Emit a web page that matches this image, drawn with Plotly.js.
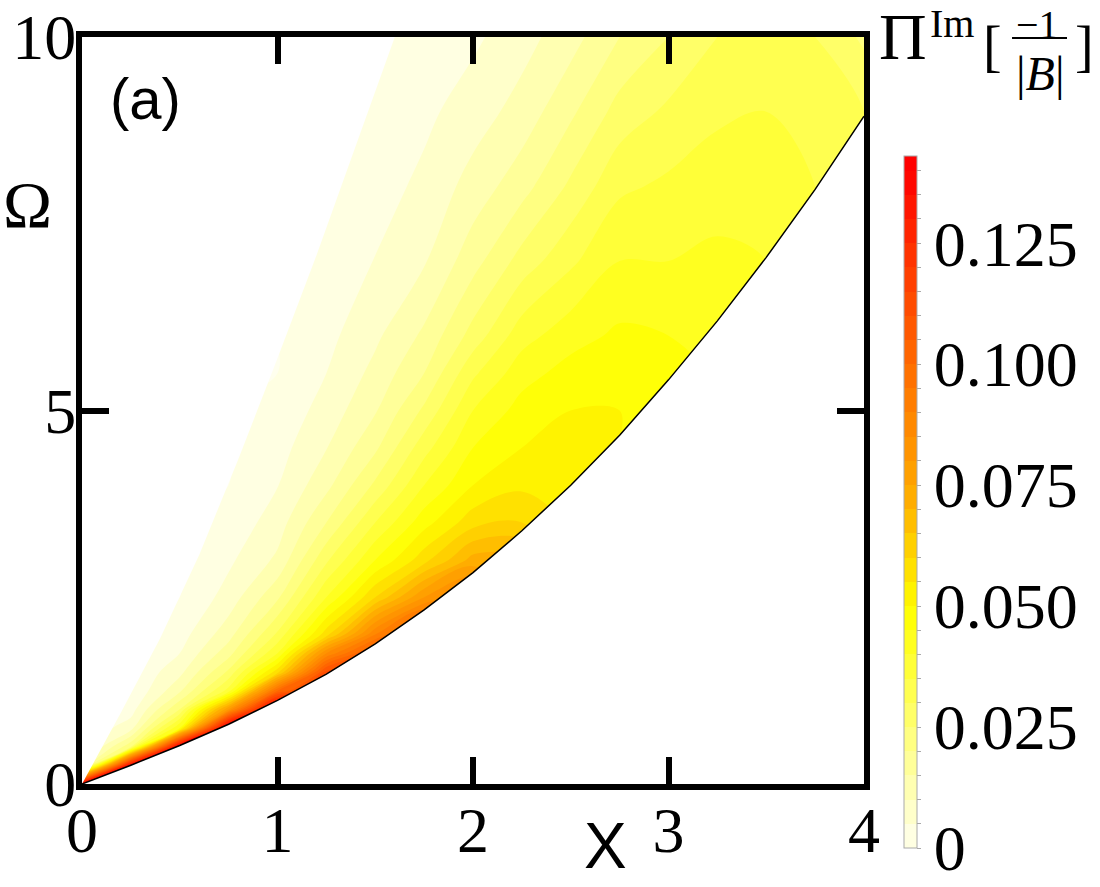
<!DOCTYPE html>
<html>
<head>
<meta charset="utf-8">
<script src="https://cdn.plot.ly/plotly-3.0.1.min.js"></script>
<style>
  body { margin: 0; background: #fff; }
  #chart { width: 1100px; height: 887px; }
</style>
</head>
<body>
<div id="chart"></div>
<script>
// grid of the density plot (x across, Omega up)
const xs = [0, 0.25, 0.5, 0.75, 1, 1.25, 1.5, 1.75, 2, 2.25, 2.5, 2.75, 3, 3.25, 3.5, 3.75, 4];
const ws = [0, 0.25, 0.5, 0.75, 1, 1.25, 1.5, 1.75, 2, 2.5, 3, 3.5, 4, 4.5, 5, 5.5, 6, 7, 8, 9, 10];

// Pi^Im[-1/|B|], one row per Omega value
const piIm = [
  [0.14, 0.143, 0.145, 0.15, 0.15, 0.12, 0.11, 0.11, 0.09, 0.072, 0.054, 0.05, 0.049, 0.044, 0.04, 0.035, 0.03],
  [0, 0.14, 0.145, 0.15, 0.15, 0.12, 0.11, 0.11, 0.09, 0.072, 0.054, 0.05, 0.049, 0.044, 0.04, 0.035, 0.03],
  [0, 0.024, 0.145, 0.15, 0.15, 0.12, 0.11, 0.11, 0.09, 0.072, 0.054, 0.05, 0.049, 0.044, 0.04, 0.035, 0.03],
  [0, 0.008, 0.045, 0.15, 0.15, 0.12, 0.11, 0.11, 0.09, 0.072, 0.054, 0.05, 0.049, 0.044, 0.04, 0.035, 0.03],
  [0, 0.0027, 0.025, 0.08, 0.15, 0.12, 0.11, 0.11, 0.09, 0.072, 0.054, 0.05, 0.049, 0.044, 0.04, 0.035, 0.03],
  [0, 0, 0.014, 0.037, 0.1, 0.12, 0.11, 0.11, 0.09, 0.072, 0.054, 0.05, 0.049, 0.044, 0.04, 0.035, 0.03],
  [0, 0, 0.0085, 0.026, 0.058, 0.112, 0.11, 0.11, 0.09, 0.072, 0.054, 0.05, 0.049, 0.044, 0.04, 0.035, 0.03],
  [0, 0, 0.005, 0.018, 0.04, 0.085, 0.11, 0.11, 0.09, 0.072, 0.054, 0.05, 0.049, 0.044, 0.04, 0.035, 0.03],
  [0, 0, 0.0028, 0.013, 0.031, 0.058, 0.09, 0.11, 0.09, 0.072, 0.054, 0.05, 0.049, 0.044, 0.04, 0.035, 0.03],
  [0, 0, 0, 0.007, 0.019, 0.04, 0.06, 0.08, 0.09, 0.072, 0.054, 0.05, 0.049, 0.044, 0.04, 0.035, 0.03],
  [0, 0, 0, 0.004, 0.011, 0.029, 0.045, 0.058, 0.072, 0.072, 0.054, 0.05, 0.049, 0.044, 0.04, 0.035, 0.03],
  [0, 0, 0, 0.0015, 0.0075, 0.02, 0.035, 0.048, 0.058, 0.06, 0.054, 0.05, 0.049, 0.044, 0.04, 0.035, 0.03],
  [0, 0, 0, 0, 0.0048, 0.0135, 0.026, 0.04, 0.05, 0.054, 0.054, 0.05, 0.049, 0.044, 0.04, 0.035, 0.03],
  [0, 0, 0, 0, 0.003, 0.0098, 0.019, 0.033, 0.045, 0.05, 0.053, 0.05, 0.049, 0.044, 0.04, 0.035, 0.03],
  [0, 0, 0, 0, 0.0015, 0.007, 0.0145, 0.026, 0.04, 0.047, 0.05, 0.05, 0.049, 0.044, 0.04, 0.035, 0.03],
  [0, 0, 0, 0, 0, 0.005, 0.0115, 0.02, 0.034, 0.043, 0.047, 0.048, 0.048, 0.044, 0.04, 0.035, 0.03],
  [0, 0, 0, 0, 0, 0.0035, 0.009, 0.016, 0.027, 0.038, 0.043, 0.046, 0.045, 0.044, 0.04, 0.035, 0.03],
  [0, 0, 0, 0, 0, 0.0012, 0.0052, 0.0095, 0.018, 0.027, 0.034, 0.04, 0.04, 0.041, 0.04, 0.035, 0.03],
  [0, 0, 0, 0, 0, 0, 0.0028, 0.0062, 0.012, 0.018, 0.026, 0.034, 0.036, 0.038, 0.038, 0.035, 0.03],
  [0, 0, 0, 0, 0, 0, 0.0006, 0.0038, 0.0075, 0.012, 0.019, 0.027, 0.031, 0.034, 0.035, 0.033, 0.03],
  [0, 0, 0, 0, 0, 0, 0, 0.002, 0.004, 0.008, 0.013, 0.02, 0.025, 0.03, 0.032, 0.03, 0.024]
];

// upper edge of the coloured wedge
const upX = [0, 0.2, 0.4, 0.6, 0.8, 1.0, 1.2, 1.4, 1.6, 1.66];
const upW = [0, 0.96, 1.95, 3.07, 4.35, 5.7, 7.08, 8.55, 10.0, 10.5];

// lower edge (the black curve)
const loX = [0, 0.25, 0.5, 0.75, 1, 1.25, 1.5, 1.75, 2, 2.25, 2.5, 2.75, 3, 3.25, 3.5, 3.75, 4];
const loW = [0, 0.252, 0.515, 0.8, 1.12, 1.47, 1.875, 2.33, 2.83, 3.39, 4.0, 4.67, 5.41, 6.2, 7.05, 7.96, 8.94];

const cbMajor = [0, 0.025, 0.05, 0.075, 0.1, 0.125];
const cbLabels = ['0', '0.025', '0.050', '0.075', '0.100', '0.125'];
const cbStep = 0.005;

const serif = 'Liberation Serif, Times New Roman, serif';
const sans = 'Liberation Sans, Arial, sans-serif';

// minor ticks every 0.005, labels only on the majors
const cbTickVals = [];
const cbTickText = [];
for (let k = 0; k <= 28; k++) {
  const v = +(k * cbStep).toFixed(3);
  cbTickVals.push(v);
  const m = cbMajor.findIndex(t => Math.abs(t - v) < 1e-9);
  cbTickText.push(m >= 0 ? cbLabels[m] : '');
}

const density = {
  type: 'contour',
  x: xs,
  y: ws,
  z: piIm,
  zmin: 0,
  zmax: 0.143,
  autocontour: false,
  contours: { start: 0, end: 0.145, size: 0.005, coloring: 'fill', showlines: false },
  line: { width: 0 },
  colorscale: [
    [0, '#ffffee'],
    [0.175, '#ffff77'],
    [0.35, '#ffff00'],
    [0.524, '#ffaa00'],
    [0.70, '#ff7000'],
    [0.874, '#ff3300'],
    [1, '#ff0000']
  ],
  colorbar: {
    x: 1.051, xanchor: 'left', xpad: 0,
    y: 0.3775, yanchor: 'middle', ypad: 0,
    len: 0.926, lenmode: 'fraction',
    thickness: 13,
    outlinewidth: 1, outlinecolor: '#aaaaaa',
    tickmode: 'array', tickvals: cbTickVals, ticktext: cbTickText,
    ticks: 'outside', ticklen: 4, tickwidth: 1, tickcolor: '#aaaaaa',
    tickfont: { family: serif, size: 64, color: '#000' }
  },
  hoverinfo: 'skip'
};

// white masks outside the wedge
const maskUpper = {
  type: 'scatter', mode: 'lines',
  x: upX.concat([-0.2, -0.2]),
  y: upW.concat([10.5, 0]),
  fill: 'toself', fillcolor: '#ffffff',
  line: { width: 0, color: '#ffffff' },
  hoverinfo: 'skip', showlegend: false
};

const maskLower = {
  type: 'scatter', mode: 'lines',
  x: loX.concat([4.2, 4.2, 0]),
  y: loW.concat([9.4, -0.5, -0.5]),
  fill: 'toself', fillcolor: '#ffffff',
  line: { width: 0, color: '#ffffff' },
  hoverinfo: 'skip', showlegend: false
};

const edge = {
  type: 'scatter', mode: 'lines',
  x: loX, y: loW,
  line: { color: '#000', width: 1.5 },
  hoverinfo: 'skip', showlegend: false
};

const axisStyle = {
  showline: true, linewidth: 6, linecolor: '#000', mirror: 'ticks',
  ticks: 'inside', ticklen: 27, tickwidth: 6, tickcolor: '#000',
  showgrid: false, zeroline: false,
  tickfont: { family: serif, size: 64, color: '#000' }
};

const ann = (text, x, y, font, size) => ({
  text: text, x: x, y: y, xref: 'paper', yref: 'paper',
  xanchor: 'center', yanchor: 'middle', showarrow: false,
  font: { family: font, size: size, color: '#000' }
});

const layout = {
  width: 1100,
  height: 887,
  margin: { l: 82, r: 236, t: 37, b: 103 },
  paper_bgcolor: '#fff',
  plot_bgcolor: '#fff',
  showlegend: false,
  xaxis: Object.assign({}, axisStyle, {
    range: [0, 4], tickmode: 'array', tickvals: [0, 1, 2, 3, 4],
    ticklabelstandoff: -15
  }),
  yaxis: Object.assign({}, axisStyle, {
    range: [0, 10], tickmode: 'array', tickvals: [0, 5, 10],
    ticklabelstandoff: -13
  }),
  annotations: [
    ann('(a)', 0.0806, 0.918, sans, 58),
    ann('\u03A9', -0.0703, 0.776, serif, 66),
    ann('X', 0.670, -0.083, sans, 64),
    ann('\u03A0', 1.050, 1.0013, serif, 66),
    ann('Im', 1.1125, 1.018, serif, 40),
    ann('[', 1.1637, 0.988, serif, 56),
    ann('\u22121', 1.2225, 1.017, serif, 40),
    ann('|<i>B</i>|', 1.2251, 0.9518, serif, 48),
    ann(']', 1.2826, 0.988, serif, 56)
  ],
  shapes: [
    { type: 'line', xref: 'paper', yref: 'paper', x0: 1.1893, x1: 1.2596, y0: 0.9987, y1: 0.9987,
      line: { color: '#000', width: 2 } }
  ]
};

Plotly.newPlot('chart', [density, maskUpper, maskLower, edge], layout, { displayModeBar: false, staticPlot: true });
</script>
</body>
</html>
